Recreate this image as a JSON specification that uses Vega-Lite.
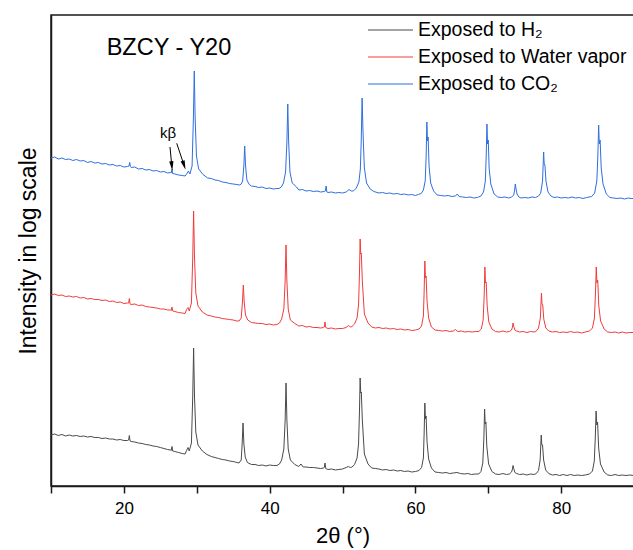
{
  "$schema": "https://vega.github.io/schema/vega-lite/v6.json",
  "width": 583,
  "height": 471,
  "autosize": "none",
  "padding": {"left": 51, "top": 15, "right": 0, "bottom": 64},
  "config": {
    "font": "Liberation Sans",
    "view": {"stroke": "#1a1a1a", "strokeWidth": 1.5},
    "axis": {"grid": false}
  },
  "datasets": {
    "C": [
      {"x":10,"y":328},{"x":10.5,"y":329},{"x":11,"y":327},{"x":11.5,"y":328},{"x":12,"y":326.5},{"x":12.5,"y":327},{"x":13,"y":325.5},{"x":13.5,"y":326.5},{"x":14,"y":325},{"x":14.5,"y":325.5},{"x":15,"y":323.5},{"x":15.5,"y":324.5},{"x":16,"y":323},{"x":16.5,"y":323.5},{"x":17,"y":322},{"x":17.5,"y":322.5},{"x":18,"y":321},{"x":18.5,"y":321.5},{"x":19,"y":320},{"x":19.5,"y":320.5},{"x":20,"y":319},{"x":20.5,"y":319.5},{"x":20.7,"y":320},{"x":20.8,"y":323.5},{"x":20.9,"y":319.5},{"x":21,"y":318.5},{"x":21.5,"y":319},{"x":22,"y":317},{"x":22.5,"y":317.5},{"x":23,"y":316},{"x":23.5,"y":316.5},{"x":24,"y":315},{"x":24.5,"y":315.5},{"x":25,"y":314},{"x":25.5,"y":314.5},{"x":26,"y":313},{"x":26.4,"y":313.5},{"x":26.5,"y":313},{"x":26.6,"y":317},{"x":26.7,"y":312.5},{"x":27,"y":312},{"x":27.5,"y":311},{"x":28,"y":310.5},{"x":28.4,"y":310},{"x":28.7,"y":313},{"x":28.85,"y":315},
      {"x":29.06,"y":312},{"x":29.36,"y":320},{"x":29.54,"y":368},{"x":29.66,"y":415},{"x":29.78,"y":368},{"x":29.96,"y":330},{"x":30.26,"y":317},{"x":30.86,"y":311.5},
      {"x":31.5,"y":308},{"x":32,"y":307.5},{"x":32.5,"y":306},{"x":33,"y":305.5},{"x":33.5,"y":304},{"x":34,"y":303.5},{"x":34.5,"y":302.5},{"x":35,"y":302},{"x":35.5,"y":301.5},{"x":35.9,"y":301},
      {"x":36.1,"y":302},{"x":36.3,"y":305},{"x":36.46,"y":320},{"x":36.58,"y":340},{"x":36.7,"y":320},{"x":36.88,"y":306},{"x":37.2,"y":301.5},
      {"x":37.5,"y":300},{"x":38,"y":299.5},{"x":38.5,"y":298.5},{"x":39,"y":299},{"x":39.5,"y":297.5},{"x":40,"y":298},{"x":40.5,"y":297},{"x":41,"y":297.5},{"x":41.3,"y":297.5},
      {"x":41.6,"y":299},{"x":41.9,"y":303},{"x":42.19,"y":314},{"x":42.37,"y":344},{"x":42.49,"y":382},{"x":42.61,"y":344},{"x":42.79,"y":314},{"x":43.1,"y":303},{"x":43.7,"y":299},
      {"x":44,"y":296},{"x":44.5,"y":296.5},{"x":45,"y":295},{"x":45.5,"y":295.5},{"x":46,"y":294.5},{"x":46.5,"y":295},{"x":47,"y":294},{"x":47.5,"y":294.5},{"x":47.65,"y":295},{"x":47.75,"y":300},{"x":47.85,"y":294},
      {"x":48,"y":293.5},{"x":48.5,"y":294},{"x":49,"y":293},{"x":49.5,"y":293.5},{"x":50,"y":293},{"x":50.5,"y":294},{"x":50.9,"y":296.5},{"x":51.2,"y":295},
      {"x":51.5,"y":295},{"x":51.9,"y":298},{"x":52.25,"y":304},{"x":52.45,"y":317},{"x":52.57,"y":345},{"x":52.69,"y":388},{"x":52.79,"y":360},{"x":52.88,"y":340},{"x":53,"y":318},{"x":53.3,"y":303},{"x":53.8,"y":297},
      {"x":54.3,"y":294.5},{"x":55,"y":293},{"x":55.5,"y":293.5},{"x":56,"y":292.5},{"x":56.5,"y":293},{"x":57,"y":292},{"x":57.5,"y":292.5},{"x":58,"y":291.5},{"x":58.5,"y":292},{"x":59,"y":291},{"x":59.5,"y":291.5},{"x":60,"y":290.5},{"x":60.4,"y":291.5},
      {"x":60.8,"y":292.5},{"x":61.1,"y":296},{"x":61.35,"y":305},{"x":61.48,"y":330},{"x":61.58,"y":364},{"x":61.66,"y":345},{"x":61.75,"y":349},{"x":61.88,"y":320},{"x":62.1,"y":303},{"x":62.5,"y":295},
      {"x":63,"y":291},{"x":63.5,"y":290.5},{"x":64,"y":290},{"x":64.5,"y":290.5},{"x":65,"y":289.5},{"x":65.5,"y":290},{"x":65.75,"y":292},{"x":66,"y":289.5},{"x":66.5,"y":289},{"x":67,"y":288.5},{"x":67.5,"y":289},{"x":68,"y":288},{"x":68.5,"y":288.5},
      {"x":69,"y":290},{"x":69.35,"y":294},{"x":69.6,"y":305},{"x":69.72,"y":330},{"x":69.82,"y":362},{"x":69.9,"y":342},{"x":70,"y":346},{"x":70.12,"y":318},{"x":70.35,"y":302},{"x":70.8,"y":292},
      {"x":71.3,"y":289},{"x":71.8,"y":288.5},{"x":72.3,"y":289},{"x":72.8,"y":288},{"x":73.2,"y":289},
      {"x":73.5,"y":291},{"x":73.62,"y":296},{"x":73.71,"y":302},{"x":73.82,"y":297},{"x":73.95,"y":292},{"x":74.2,"y":289},
      {"x":74.5,"y":288},{"x":75,"y":288.5},{"x":75.5,"y":288},{"x":76,"y":289},{"x":76.5,"y":288.5},
      {"x":76.9,"y":290},{"x":77.2,"y":293},{"x":77.45,"y":305},{"x":77.6,"y":334},{"x":77.68,"y":322},{"x":77.78,"y":321},{"x":77.92,"y":305},{"x":78.2,"y":294},{"x":78.6,"y":290},
      {"x":79,"y":288.5},{"x":79.5,"y":289},{"x":80,"y":288},{"x":80.5,"y":288.5},{"x":81,"y":288},{"x":81.5,"y":289},{"x":82,"y":288},{"x":82.5,"y":288.5},{"x":83,"y":287.5},{"x":83.5,"y":288.5},
      {"x":84.2,"y":289.5},{"x":84.6,"y":293},{"x":84.9,"y":305},{"x":85.04,"y":330},{"x":85.15,"y":361},{"x":85.24,"y":342},{"x":85.35,"y":346},{"x":85.5,"y":318},{"x":85.75,"y":302},{"x":86.2,"y":292},
      {"x":86.7,"y":288.5},{"x":87.2,"y":288},{"x":87.7,"y":287.5},{"x":88.2,"y":288},{"x":88.7,"y":287},{"x":89.2,"y":288},{"x":89.6,"y":287.5},{"x":90,"y":287.5}
    ],
    "W": [
      {"x":10,"y":191},{"x":10.5,"y":192},{"x":11,"y":190.5},{"x":11.5,"y":191},{"x":12,"y":189.5},{"x":12.5,"y":190},{"x":13,"y":189},{"x":13.5,"y":189.5},{"x":14,"y":188},{"x":14.5,"y":188.5},{"x":15,"y":187},{"x":15.5,"y":187.5},{"x":16,"y":186.5},{"x":16.5,"y":186.5},{"x":17,"y":185.5},{"x":17.5,"y":186},{"x":18,"y":184.5},{"x":18.5,"y":185},{"x":19,"y":183.5},{"x":19.5,"y":184},{"x":20,"y":182.5},{"x":20.5,"y":183},
      {"x":20.65,"y":183},{"x":20.75,"y":187.5},{"x":20.85,"y":182},
      {"x":21,"y":181.5},{"x":21.5,"y":182},{"x":22,"y":180.5},{"x":22.5,"y":181},{"x":23,"y":179.5},{"x":23.5,"y":179},{"x":24,"y":178.5},{"x":24.5,"y":178},{"x":25,"y":177},{"x":25.5,"y":177},{"x":26,"y":176},{"x":26.4,"y":176},
      {"x":26.5,"y":175.5},{"x":26.6,"y":179},{"x":26.7,"y":175},
      {"x":27,"y":174.5},{"x":27.5,"y":173.5},{"x":28,"y":173},{"x":28.4,"y":172.5},{"x":28.6,"y":176.5},{"x":28.8,"y":178.5},
      {"x":28.97,"y":175},{"x":29.27,"y":183},{"x":29.45,"y":229},{"x":29.57,"y":275},{"x":29.69,"y":229},{"x":29.87,"y":193},{"x":30.17,"y":180},{"x":30.77,"y":174},
      {"x":31.4,"y":171},{"x":32,"y":170},{"x":32.5,"y":169},{"x":33,"y":168.5},{"x":33.5,"y":167.5},{"x":34,"y":167},{"x":34.5,"y":166.5},{"x":35,"y":166},{"x":35.5,"y":165},{"x":35.8,"y":165},
      {"x":35.9,"y":166},{"x":36.1,"y":168},{"x":36.27,"y":184},{"x":36.39,"y":201},{"x":36.51,"y":184},{"x":36.69,"y":171},{"x":37,"y":166},
      {"x":37.5,"y":163.5},{"x":38,"y":163},{"x":38.5,"y":162.5},{"x":39,"y":162.5},{"x":39.5,"y":161.5},{"x":40,"y":162},{"x":40.5,"y":161},{"x":41,"y":161.5},
      {"x":41.35,"y":163},{"x":41.65,"y":167},{"x":41.95,"y":177},{"x":42.13,"y":205},{"x":42.25,"y":241},{"x":42.37,"y":205},{"x":42.55,"y":177},{"x":42.85,"y":166},{"x":43.45,"y":162.5},
      {"x":44,"y":160},{"x":44.5,"y":160.5},{"x":45,"y":159},{"x":45.5,"y":159.5},{"x":46,"y":158.5},{"x":46.5,"y":158.5},{"x":47,"y":158},{"x":47.4,"y":158.5},
      {"x":47.5,"y":159},{"x":47.6,"y":164},{"x":47.7,"y":158.5},
      {"x":48,"y":157.5},{"x":48.5,"y":158},{"x":49,"y":157},{"x":49.5,"y":157.5},{"x":50,"y":157.5},{"x":50.5,"y":158.5},{"x":50.8,"y":160.5},{"x":51.1,"y":159},
      {"x":51.3,"y":159.5},{"x":51.65,"y":162},{"x":52,"y":168},{"x":52.2,"y":181},{"x":52.32,"y":210},{"x":52.42,"y":247},{"x":52.5,"y":232},{"x":52.58,"y":233},{"x":52.72,"y":205},{"x":53,"y":172},{"x":53.5,"y":163},
      {"x":54,"y":159},{"x":54.5,"y":158},{"x":55,"y":158.5},{"x":55.5,"y":157.5},{"x":56,"y":158},{"x":56.5,"y":157},{"x":57,"y":157.5},{"x":57.5,"y":156.5},{"x":58,"y":157},{"x":58.5,"y":156},{"x":59,"y":156.5},{"x":59.5,"y":155.5},{"x":60,"y":156},
      {"x":60.5,"y":157},{"x":60.85,"y":160},{"x":61.1,"y":170},{"x":61.2,"y":194},{"x":61.3,"y":225},{"x":61.38,"y":208},{"x":61.47,"y":210},{"x":61.6,"y":185},{"x":61.82,"y":168},{"x":62.2,"y":159},
      {"x":62.7,"y":156},{"x":63.2,"y":155.5},{"x":63.7,"y":155},{"x":64.2,"y":155.5},{"x":64.7,"y":154.5},{"x":65.2,"y":155},{"x":65.5,"y":156.5},{"x":65.8,"y":154.5},{"x":66.3,"y":155},{"x":66.8,"y":154},{"x":67.3,"y":154.5},{"x":67.8,"y":154},{"x":68.3,"y":154.5},{"x":68.7,"y":154.5},
      {"x":69.05,"y":157},{"x":69.3,"y":166},{"x":69.44,"y":190},{"x":69.54,"y":219},{"x":69.62,"y":203},{"x":69.72,"y":204},{"x":69.85,"y":180},{"x":70.08,"y":164},{"x":70.5,"y":157},
      {"x":71,"y":154.5},{"x":71.5,"y":154},{"x":72,"y":155},{"x":72.5,"y":154},{"x":72.9,"y":154.5},
      {"x":73.2,"y":156},{"x":73.32,"y":159},{"x":73.4,"y":163},{"x":73.5,"y":159.5},{"x":73.65,"y":156},{"x":73.9,"y":155},
      {"x":74.3,"y":154},{"x":74.8,"y":154.5},{"x":75.3,"y":153.5},{"x":75.8,"y":154.5},{"x":76.3,"y":154},
      {"x":76.6,"y":155},{"x":76.9,"y":158},{"x":77.15,"y":168},{"x":77.3,"y":193},{"x":77.38,"y":182},{"x":77.48,"y":181},{"x":77.62,"y":167},{"x":77.9,"y":158},{"x":78.3,"y":155},
      {"x":78.8,"y":154},{"x":79.3,"y":154.5},{"x":79.8,"y":153.5},{"x":80.3,"y":154},{"x":80.8,"y":153.5},{"x":81.3,"y":154.5},{"x":81.8,"y":153.5},{"x":82.3,"y":154},{"x":82.8,"y":153},{"x":83.3,"y":154},
      {"x":83.9,"y":155},{"x":84.3,"y":158},{"x":84.57,"y":168},{"x":84.71,"y":192},{"x":84.82,"y":219},{"x":84.91,"y":203},{"x":85.02,"y":206},{"x":85.17,"y":180},{"x":85.42,"y":165},{"x":85.9,"y":157},
      {"x":86.4,"y":154},{"x":86.9,"y":153.5},{"x":87.4,"y":154},{"x":87.9,"y":153},{"x":88.4,"y":154},{"x":88.9,"y":153},{"x":89.4,"y":153.5},{"x":90,"y":153.5}
    ],
    "H": [
      {"x":10,"y":51},{"x":10.5,"y":52},{"x":11,"y":50.5},{"x":11.5,"y":51.5},{"x":12,"y":50},{"x":12.5,"y":51},{"x":13,"y":50},{"x":13.5,"y":50.5},{"x":14,"y":49.5},{"x":14.5,"y":50},{"x":15,"y":49},{"x":15.5,"y":49.5},{"x":16,"y":48.5},{"x":16.5,"y":48.5},{"x":17,"y":47.5},{"x":17.5,"y":48},{"x":18,"y":47},{"x":18.5,"y":47},{"x":19,"y":46},{"x":19.5,"y":46.5},{"x":20,"y":45.5},{"x":20.5,"y":45.5},
      {"x":20.65,"y":46},{"x":20.75,"y":50.5},{"x":20.85,"y":45},
      {"x":21,"y":44.5},{"x":21.5,"y":44},{"x":22,"y":43},{"x":22.5,"y":42.5},{"x":23,"y":41.5},{"x":23.5,"y":41},{"x":24,"y":40},{"x":24.5,"y":39.5},{"x":25,"y":38.5},{"x":25.5,"y":37.5},{"x":26,"y":36.5},{"x":26.4,"y":36},
      {"x":26.5,"y":35.5},{"x":26.6,"y":39.5},{"x":26.7,"y":35},
      {"x":27,"y":34.5},{"x":27.5,"y":33.5},{"x":28,"y":32.5},{"x":28.4,"y":32},{"x":28.6,"y":35.5},{"x":28.8,"y":38.5},
      {"x":28.97,"y":35},{"x":29.27,"y":43},{"x":29.45,"y":90},{"x":29.57,"y":138},{"x":29.69,"y":90},{"x":29.87,"y":54},{"x":30.17,"y":41},{"x":30.77,"y":35},
      {"x":31.4,"y":31.5},{"x":32,"y":29.5},{"x":32.5,"y":28.5},{"x":33,"y":27.5},{"x":33.5,"y":26.5},{"x":34,"y":26},{"x":34.5,"y":25},{"x":35,"y":24.5},{"x":35.5,"y":23.5},{"x":35.8,"y":23},
      {"x":35.9,"y":24},{"x":36.1,"y":26},{"x":36.23,"y":42},{"x":36.35,"y":63},{"x":36.47,"y":42},{"x":36.65,"y":29},{"x":36.95,"y":23.5},
      {"x":37.5,"y":21.5},{"x":38,"y":21.5},{"x":38.5,"y":20.5},{"x":39,"y":21},{"x":39.5,"y":20},{"x":40,"y":21},{"x":40.5,"y":20.5},{"x":41,"y":20.5},
      {"x":41.35,"y":22},{"x":41.65,"y":26},{"x":41.95,"y":37},{"x":42.13,"y":66},{"x":42.25,"y":103},{"x":42.37,"y":66},{"x":42.55,"y":37},{"x":42.85,"y":26},{"x":43.45,"y":21.5},
      {"x":44,"y":19.5},{"x":44.3,"y":22},{"x":44.6,"y":19},{"x":45,"y":19},{"x":45.5,"y":18.5},{"x":46,"y":18.5},{"x":46.5,"y":18},{"x":47,"y":17.5},{"x":47.4,"y":18},
      {"x":47.5,"y":18.5},{"x":47.6,"y":23},{"x":47.7,"y":17.5},
      {"x":48,"y":16.5},{"x":48.5,"y":17},{"x":49,"y":16},{"x":49.5,"y":16.5},{"x":50,"y":17},{"x":50.5,"y":18.5},{"x":50.8,"y":19.5},{"x":51.1,"y":18.5},
      {"x":51.3,"y":19},{"x":51.65,"y":21.5},{"x":52,"y":28},{"x":52.2,"y":42},{"x":52.32,"y":72},{"x":52.42,"y":108},{"x":52.5,"y":93},{"x":52.58,"y":94},{"x":52.72,"y":66},{"x":53,"y":32},{"x":53.5,"y":22},
      {"x":54,"y":18},{"x":54.5,"y":17.5},{"x":55,"y":17},{"x":55.5,"y":16},{"x":56,"y":16.5},{"x":56.5,"y":15.5},{"x":57,"y":16},{"x":57.5,"y":15},{"x":58,"y":15.5},{"x":58.5,"y":14.5},{"x":59,"y":15},{"x":59.5,"y":14},{"x":60,"y":14.5},
      {"x":60.5,"y":15.5},{"x":60.85,"y":18.5},{"x":61.1,"y":28},{"x":61.2,"y":52},{"x":61.3,"y":83},{"x":61.38,"y":67},{"x":61.47,"y":70},{"x":61.6,"y":44},{"x":61.82,"y":27},{"x":62.2,"y":18},
      {"x":62.7,"y":14},{"x":63.2,"y":13.5},{"x":63.7,"y":13},{"x":64.2,"y":13.5},{"x":64.7,"y":12.5},{"x":65.2,"y":13},{"x":65.7,"y":13.5},{"x":66.2,"y":12.5},{"x":66.7,"y":12},{"x":67.2,"y":12.5},{"x":67.7,"y":11.5},{"x":68.2,"y":12},{"x":68.7,"y":12},
      {"x":69,"y":14.5},{"x":69.25,"y":23},{"x":69.4,"y":48},{"x":69.5,"y":77},{"x":69.58,"y":62},{"x":69.68,"y":64},{"x":69.8,"y":40},{"x":70.05,"y":22},{"x":70.5,"y":14.5},
      {"x":71,"y":12},{"x":71.5,"y":11.5},{"x":72,"y":12.5},{"x":72.5,"y":11.5},{"x":72.9,"y":12},
      {"x":73.2,"y":14},{"x":73.32,"y":17},{"x":73.4,"y":20.5},{"x":73.5,"y":17.5},{"x":73.65,"y":13.5},{"x":73.9,"y":12.5},
      {"x":74.3,"y":11.5},{"x":74.8,"y":12},{"x":75.3,"y":11},{"x":75.8,"y":12},{"x":76.3,"y":11.5},
      {"x":76.6,"y":12.5},{"x":76.9,"y":15.5},{"x":77.12,"y":26},{"x":77.27,"y":51},{"x":77.35,"y":41},{"x":77.45,"y":41},{"x":77.6,"y":26},{"x":77.88,"y":16},{"x":78.3,"y":12.5},
      {"x":78.8,"y":11},{"x":79.3,"y":11.5},{"x":79.8,"y":10.5},{"x":80.3,"y":11.5},{"x":80.8,"y":10.5},{"x":81.3,"y":11.5},{"x":81.8,"y":10.5},{"x":82.3,"y":11},{"x":82.8,"y":10.5},{"x":83.3,"y":11},
      {"x":83.9,"y":12},{"x":84.3,"y":15},{"x":84.55,"y":25},{"x":84.69,"y":49},{"x":84.8,"y":75},{"x":84.89,"y":61},{"x":85,"y":64},{"x":85.15,"y":38},{"x":85.4,"y":22},{"x":85.9,"y":14},
      {"x":86.4,"y":11},{"x":86.9,"y":10.5},{"x":87.4,"y":11.5},{"x":87.9,"y":10.5},{"x":88.4,"y":11},{"x":88.9,"y":10.5},{"x":89.4,"y":11},{"x":90,"y":10.5}
    ],
    "arrows": [
      {"id":"a1","x":26.33,"y":339,"x2":26.58,"y2":320},
      {"id":"a2","x":27.25,"y":342.7,"x2":28.26,"y2":320.7}
    ],
    "labels": [
      {"text":"BZCY - Y20","x":17.64,"y":431,"kind":"title"},
      {"text":"kβ","x":26.05,"y":353,"kind":"kb"}
    ]
  },
  "layer": [
    {
      "data": {"name": "H"},
      "mark": {"type": "line", "strokeWidth": 1, "clip": true},
      "encoding": {
        "x": {"field": "x", "type": "quantitative", "scale": {"domain": [10, 90], "nice": false},
          "axis": {"values": [10,20,30,40,50,60,70,80,90], "labelExpr": "datum.value % 20 == 0 ? datum.label : ''",
            "domainColor": "#1a1a1a", "domainWidth": 1.5, "tickColor": "#1a1a1a", "tickWidth": 1.5, "tickSize": 7,
            "labelFontSize": 17, "labelColor": "#000", "labelPadding": 7, "labelFont": "Liberation Sans",
            "title": "2θ (°)", "titleFontSize": 22, "titleFontWeight": "normal", "titleColor": "#000", "titlePadding": 9, "titleFont": "Liberation Sans"}},
        "y": {"field": "y", "type": "quantitative", "scale": {"domain": [0, 471], "nice": false},
          "axis": {"ticks": false, "labels": false, "domainColor": "#1a1a1a", "domainWidth": 1.5,
            "title": "Intensity in log scale", "titleFontSize": 23, "titleFontWeight": "normal", "titleColor": "#000", "titlePadding": 11, "titleFont": "Liberation Sans"}},
        "color": {"datum": "Exposed to H₂", "type": "nominal",
          "scale": {"domain": ["Exposed to H₂", "Exposed to Water vapor", "Exposed to CO₂"], "range": ["#4a4a4a", "#f03c3c", "#2e6fe0"]},
          "legend": {"title": null, "orient": "none", "legendX": 329.5, "legendY": 5, "padding": 0, "symbolType": "M-2.5,0L2.5,0", "symbolSize": 324,
            "symbolStrokeWidth": 1.2, "labelFontSize": 19.5, "labelFont": "Liberation Sans", "labelColor": "#000", "labelOffset": 17.5, "labelLimit": 320, "rowPadding": 7}}
      }
    },
    {
      "data": {"name": "W"},
      "mark": {"type": "line", "strokeWidth": 1, "clip": true},
      "encoding": {
        "x": {"field": "x", "type": "quantitative"},
        "y": {"field": "y", "type": "quantitative"},
        "color": {"datum": "Exposed to Water vapor", "type": "nominal"}
      }
    },
    {
      "data": {"name": "C"},
      "mark": {"type": "line", "strokeWidth": 1, "clip": true},
      "encoding": {
        "x": {"field": "x", "type": "quantitative"},
        "y": {"field": "y", "type": "quantitative"},
        "color": {"datum": "Exposed to CO₂", "type": "nominal"}
      }
    },
    {
      "data": {"name": "arrows"},
      "mark": {"type": "rule", "color": "#000", "strokeWidth": 1},
      "encoding": {
        "x": {"field": "x", "type": "quantitative"},
        "y": {"field": "y", "type": "quantitative"},
        "x2": {"field": "x2"},
        "y2": {"field": "y2"}
      }
    },
    {
      "data": {"name": "arrows"},
      "transform": [{"filter": "datum.id == 'a1'"}],
      "mark": {"type": "point", "shape": "M-0.45,-1L0.45,-1L0,1Z", "size": 90, "filled": true, "color": "#000", "opacity": 1, "angle": 354},
      "encoding": {
        "x": {"field": "x2", "type": "quantitative"},
        "y": {"field": "y2", "type": "quantitative"}
      }
    },
    {
      "data": {"name": "arrows"},
      "transform": [{"filter": "datum.id == 'a2'"}],
      "mark": {"type": "point", "shape": "M-0.45,-1L0.45,-1L0,1Z", "size": 90, "filled": true, "color": "#000", "opacity": 1, "angle": 342},
      "encoding": {
        "x": {"field": "x2", "type": "quantitative"},
        "y": {"field": "y2", "type": "quantitative"}
      }
    },
    {
      "data": {"name": "labels"},
      "transform": [{"filter": "datum.kind == 'title'"}],
      "mark": {"type": "text", "align": "left", "baseline": "alphabetic", "fontSize": 23.5, "font": "Liberation Sans", "color": "#000"},
      "encoding": {
        "x": {"field": "x", "type": "quantitative"},
        "y": {"field": "y", "type": "quantitative"},
        "text": {"field": "text"}
      }
    },
    {
      "data": {"name": "labels"},
      "transform": [{"filter": "datum.kind == 'kb'"}],
      "mark": {"type": "text", "align": "center", "baseline": "middle", "fontSize": 15, "font": "Liberation Sans", "color": "#000"},
      "encoding": {
        "x": {"field": "x", "type": "quantitative"},
        "y": {"field": "y", "type": "quantitative"},
        "text": {"field": "text"}
      }
    }
  ]
}
